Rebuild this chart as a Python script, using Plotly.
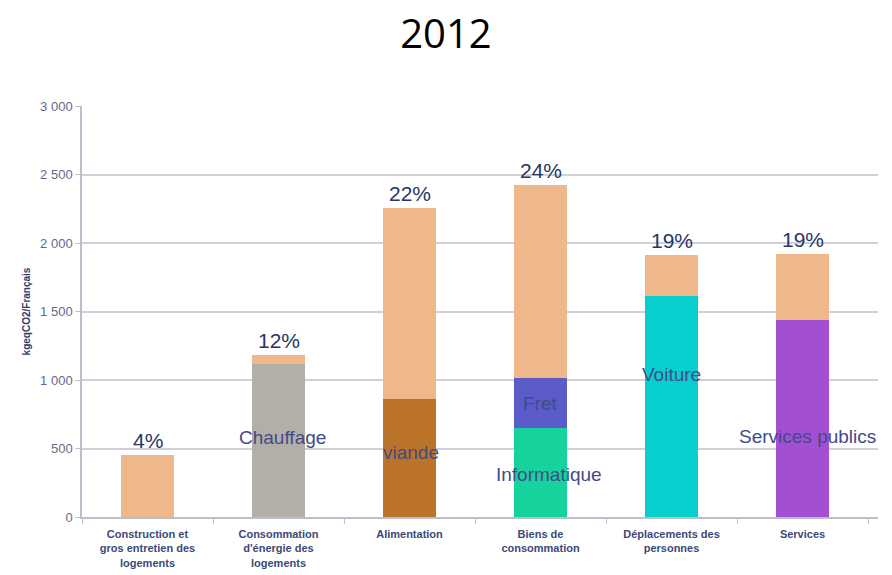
import plotly.graph_objects as go

# Émissions par poste, en kgeqCO2 par Français (2012)
categories = [
    "Construction et<br>gros entretien des<br>logements",
    "Consommation<br>d'énergie des<br>logements",
    "Alimentation",
    "Biens de<br>consommation",
    "Déplacements des<br>personnes",
    "Services",
]
totals = [450, 1180, 2255, 2425, 1910, 1920]
shares = ["4%", "12%", "22%", "24%", "19%", "19%"]

chauffage = [None, 1120, None, None, None, None]
viande = [None, None, 860, None, None, None]
informatique = [None, None, None, 650, None, None]
fret = [None, None, None, 362, None, None]
voiture = [None, None, None, None, 1610, None]
services_publics = [None, None, None, None, None, 1435]

y_ticks = [0, 500, 1000, 1500, 2000, 2500, 3000]
y_tick_text = ["0", "500", "1 000", "1 500", "2 000", "2 500", "3 000"]

segments = [
    ("Chauffage", chauffage, "#b4aea9"),
    ("Viande", viande, "#bb7329"),
    ("Informatique", informatique, "#16d39e"),
    ("Fret", fret, "#5b5bc9"),
    ("Voiture", voiture, "#07cfd0"),
    ("Services publics", services_publics, "#a24fd4"),
]

# remaining part of each bar, drawn on top of the named segment
named = [sum(s[i] or 0 for _, s, _ in segments) for i in range(len(categories))]
autres = [t - n for t, n in zip(totals, named)]

fig = go.Figure()
for name, vals, color in segments:
    fig.add_trace(go.Bar(x=categories, y=vals, name=name, marker_color=color,
                         marker_line_width=0, width=0.41))
fig.add_trace(go.Bar(x=categories, y=autres, name="Autres", marker_color="#eeb88b",
                     marker_line_width=0, width=0.41))

label_font = dict(family="Liberation Sans, Arial, sans-serif", size=19, color="#404c85")

# share of the total above each bar
for cat, tot, pct in zip(categories, totals, shares):
    fig.add_annotation(x=cat, y=tot, text=pct, showarrow=False, yanchor="bottom", yshift=1,
                       font=dict(family="Liberation Sans, Arial, sans-serif", size=21,
                                 color="#283665"))

# segment names, placed inside their segment
def seg_label(idx, text, base, height, frac, xshift=0):
    fig.add_annotation(x=categories[idx], y=base + frac * height, text=text,
                       showarrow=False, xshift=xshift, font=label_font)

seg_label(1, "Chauffage", 0, chauffage[1], 0.52, 4)
seg_label(2, "viande", 0, viande[2], 0.55, 1)
seg_label(3, "Informatique", 0, informatique[3], 0.48, 8)
seg_label(3, "Fret", informatique[3], fret[3], 0.5, 0)
seg_label(4, "Voiture", 0, voiture[4], 0.645, 0)
seg_label(5, "Services publics", 0, services_publics[5], 0.41, 5)

fig.update_layout(
    barmode="stack",
    width=892, height=575,
    margin=dict(l=82, r=14, t=106, b=58),
    paper_bgcolor="white", plot_bgcolor="white",
    showlegend=False,
    title=dict(text="2012", x=0.5, xanchor="center", y=1 - 34 / 575, yanchor="middle",
               yref="container",
               font=dict(family="Open Sans, Noto Sans, sans-serif", size=40, color="#000000")),
    xaxis=dict(
        automargin=False,
        showline=True, linecolor="#bdbdcc", linewidth=1.5,
        ticks="outside", tickson="boundaries", ticklen=5, tickcolor="#bdbdcc",
        ticklabelstandoff=6,
        tickfont=dict(family="Liberation Sans, Arial, sans-serif", size=11, color="#3b4a78",
                      weight="bold"),
        showgrid=False,
    ),
    yaxis=dict(
        automargin=False,
        range=[0, 3000], tickvals=y_ticks, ticktext=y_tick_text,
        showline=True, linecolor="#bdbdcc", linewidth=1.5,
        ticks="outside", ticklen=5, tickcolor="#bdbdcc",
        gridcolor="#cfd0dc", gridwidth=1.5,
        zeroline=False,
        tickfont=dict(family="Liberation Sans, Arial, sans-serif", size=13, color="#646a8a"),
        title=dict(text="kgeqCO2/Français", standoff=8,
                   font=dict(family="Liberation Sans, Arial, sans-serif", size=10,
                             color="#2f3d70", weight="bold")),
    ),
)

fig.write_html("out.html")
